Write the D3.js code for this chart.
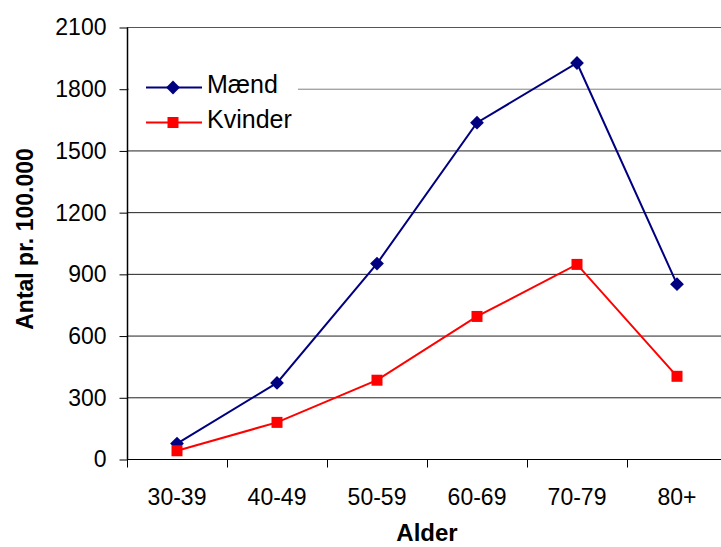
<!DOCTYPE html>
<html>
<head>
<meta charset="utf-8">
<script src="https://cdn.jsdelivr.net/npm/d3@7"></script>
<style>
  body { margin: 0; background: #fff; }
  svg { display: block; font-family: "Liberation Sans", Arial, sans-serif; }
</style>
</head>
<body>
<div id="chart"></div>
<script>
// data
const ageGroups = ["30-39", "40-49", "50-59", "60-69", "70-79", "80+"];
const maend = [75, 370, 950, 1635, 1925, 850];
const kvinder = [40, 178, 383, 693, 946, 402];
const yTicks = [0, 300, 600, 900, 1200, 1500, 1800, 2100];

const width = 721, height = 547;
const margin = { top: 27, right: -6, bottom: 88, left: 127 };

const svg = d3.select("#chart").append("svg")
  .attr("width", width)
  .attr("height", height);

// scales
const x = d3.scaleBand()
  .domain(ageGroups)
  .range([margin.left, width - margin.right]);

const y = d3.scaleLinear()
  .domain([0, 2100])
  .range([height - margin.bottom, margin.top]);

// gridlines
svg.append("g")
  .selectAll("line")
  .data(yTicks.filter(d => d > 0))
  .join("line")
  .attr("x1", margin.left)
  .attr("x2", width)
  .attr("y1", d => y(d) + 0.5)
  .attr("y2", d => y(d) + 0.5)
  .attr("stroke", d => d === 1800 ? "#808080" : d === 2100 ? "#555" : "#222")
  .attr("stroke-width", 1);

// y axis
const yAxis = d3.axisLeft(y).tickValues(yTicks).tickSize(8).tickPadding(13).tickFormat(d3.format("d"));
svg.append("g")
  .attr("transform", `translate(${margin.left + 0.5},0.5)`)
  .call(yAxis)
  .call(g => g.select(".domain").attr("stroke", "#000").attr("stroke-width", 1.5).attr("d", `M0,${y(2100)}V${y(0)}`))
  .call(g => g.selectAll(".tick line").attr("stroke", "#000"))
  .call(g => g.selectAll(".tick text").attr("font-size", 23).attr("fill", "#000").attr("font-family", "Liberation Sans, Arial, sans-serif"));

// x axis
const xAxis = d3.axisBottom(x).tickSize(0).tickPadding(29);
const gx = svg.append("g")
  .attr("transform", `translate(0,${y(0) + 0.5})`)
  .call(xAxis)
  .call(g => g.select(".domain").attr("stroke", "#000").attr("d", `M${margin.left},0H${width}`))
  .call(g => g.selectAll(".tick text").attr("font-size", 23).attr("fill", "#000").attr("font-family", "Liberation Sans, Arial, sans-serif"));

// category separator ticks
gx.append("g")
  .selectAll("line")
  .data(ageGroups)
  .join("line")
  .attr("x1", d => x(d) + 0.5)
  .attr("x2", d => x(d) + 0.5)
  .attr("y1", 0)
  .attr("y2", 8)
  .attr("stroke", "#000");

// axis titles
svg.append("text")
  .attr("x", x(ageGroups[0]) + x.step() * 3)
  .attr("y", 541)
  .attr("text-anchor", "middle")
  .attr("font-size", 24)
  .attr("font-weight", "bold")
  .text("Alder");

svg.append("text")
  .attr("transform", `translate(33,239) rotate(-90)`)
  .attr("text-anchor", "middle")
  .attr("font-size", 23)
  .attr("font-weight", "bold")
  .text("Antal pr. 100.000");

// lines
const cx = d => x(d) + x.bandwidth() / 2;
const line = d3.line()
  .x((d, i) => cx(ageGroups[i]))
  .y(d => y(d));

const series = [
  { name: "Mænd", values: maend, color: "#000080", rot: 45, size: 95 },
  { name: "Kvinder", values: kvinder, color: "#ff0000", rot: 0, size: 121 }
];

series.forEach(s => {
  svg.append("path")
    .datum(s.values)
    .attr("fill", "none")
    .attr("stroke", s.color)
    .attr("stroke-width", 2)
    .attr("d", line);

  svg.append("g")
    .selectAll("path")
    .data(s.values)
    .join("path")
    .attr("transform", (d, i) => `translate(${cx(ageGroups[i])},${y(d)}) rotate(${s.rot})`)
    .attr("d", d3.symbol().type(d3.symbolSquare).size(s.size))
    .attr("fill", s.color);
});

// legend
const legend = svg.append("g");
legend.append("rect")
  .attr("x", 129).attr("y", 66)
  .attr("width", 169).attr("height", 76)
  .attr("fill", "#fff");

series.forEach((s, i) => {
  const ly = 87.5 + i * 35;
  legend.append("line")
    .attr("x1", 146).attr("x2", 202)
    .attr("y1", ly).attr("y2", ly)
    .attr("stroke", s.color).attr("stroke-width", 2);
  legend.append("path")
    .attr("transform", `translate(173,${ly}) rotate(${s.rot})`)
    .attr("d", d3.symbol().type(d3.symbolSquare).size(s.size))
    .attr("fill", s.color);
  legend.append("text")
    .attr("x", 207).attr("y", ly + 5.5)
    .attr("font-size", 25)
    .text(s.name);
});
</script>
</body>
</html>
